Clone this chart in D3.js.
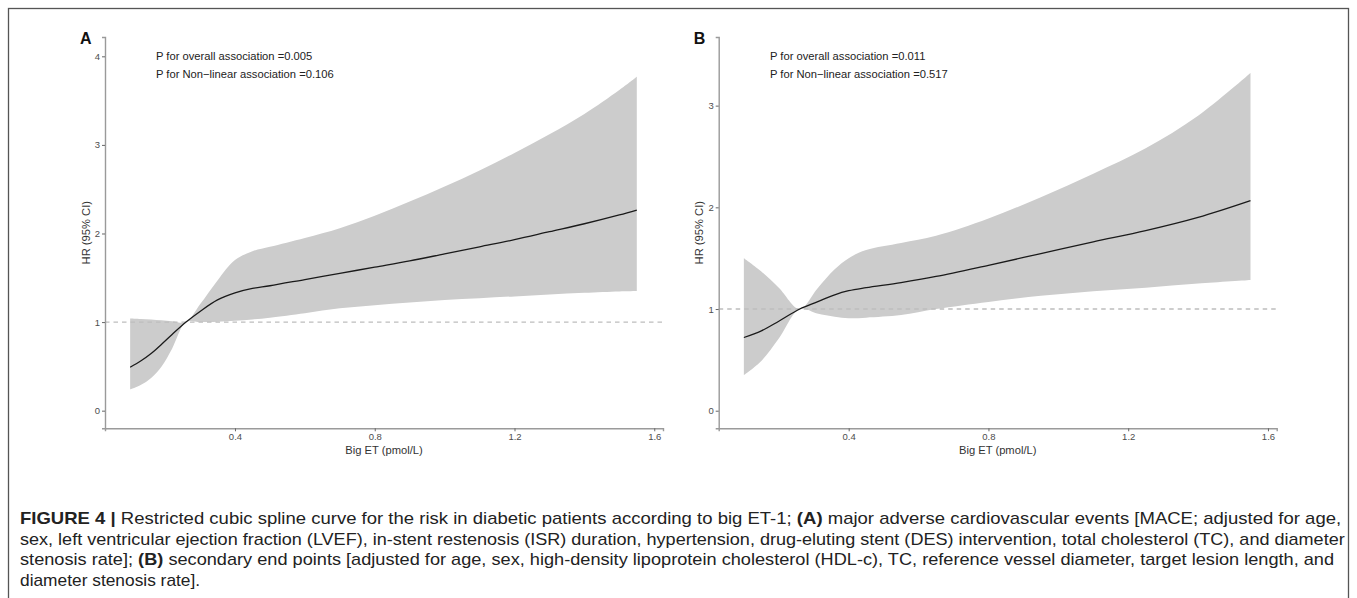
<!DOCTYPE html>
<html>
<head>
<meta charset="utf-8">
<script src="https://cdn.jsdelivr.net/npm/d3@7"></script>
<style>
  body { margin: 0; background: #fff; }
  svg { display: block; }
  .tick text { font-family: "Liberation Sans", Arial, sans-serif; }
</style>
</head>
<body>
<svg id="fig" width="1357" height="598"></svg>
<script>
// Panel A: MACE
var xA   = [0.10, 0.13, 0.16, 0.19, 0.22, 0.26, 0.30, 0.35, 0.40, 0.45, 0.50, 0.60, 0.70, 0.80, 0.90, 1.00, 1.10, 1.20, 1.30, 1.40, 1.50, 1.55];
var estA = [0.49, 0.56, 0.645, 0.75, 0.86, 1.00, 1.12, 1.25, 1.33, 1.38, 1.41, 1.48, 1.55, 1.62, 1.69, 1.77, 1.85, 1.93, 2.02, 2.11, 2.21, 2.265];
var loA  = [0.24, 0.29, 0.37, 0.50, 0.70, 1.00, 1.00, 1.005, 1.015, 1.03, 1.05, 1.10, 1.155, 1.19, 1.22, 1.25, 1.27, 1.29, 1.31, 1.33, 1.345, 1.35];
var hiA  = [1.04, 1.035, 1.03, 1.02, 1.01, 1.00, 1.20, 1.47, 1.70, 1.80, 1.85, 1.95, 2.06, 2.20, 2.36, 2.53, 2.71, 2.91, 3.12, 3.35, 3.62, 3.77];

// Panel B: secondary end points
var xB   = [0.10, 0.15, 0.20, 0.26, 0.31, 0.36, 0.40, 0.45, 0.55, 0.65, 0.80, 0.95, 1.10, 1.25, 1.40, 1.55];
var estB = [0.72, 0.785, 0.88, 1.00, 1.07, 1.14, 1.18, 1.21, 1.26, 1.32, 1.43, 1.545, 1.66, 1.77, 1.90, 2.065];
var loB  = [0.35, 0.49, 0.71, 1.00, 0.955, 0.925, 0.91, 0.915, 0.94, 1.00, 1.07, 1.13, 1.175, 1.21, 1.25, 1.285];
var hiB  = [1.50, 1.37, 1.21, 1.00, 1.20, 1.39, 1.50, 1.58, 1.65, 1.72, 1.89, 2.10, 2.33, 2.58, 2.90, 3.32];

var xTicks = [0.4, 0.8, 1.2, 1.6];
var yTicksA = [0, 1, 2, 3, 4];
var yTicksB = [0, 1, 2, 3];

var pTextA = ["P for overall association =0.005", "P for Non\u2212linear association =0.106"];
var pTextB = ["P for overall association =0.011", "P for Non\u2212linear association =0.517"];

var captionLines = [
  [["FIGURE 4 | ", true], ["Restricted cubic spline curve for the risk in diabetic patients according to big ET-1; ", false], ["(A)", true], [" major adverse cardiovascular events [MACE; adjusted for age,", false]],
  [["sex, left ventricular ejection fraction (LVEF), in-stent restenosis (ISR) duration, hypertension, drug-eluting stent (DES) intervention, total cholesterol (TC), and diameter", false]],
  [["stenosis rate]; ", false], ["(B)", true], [" secondary end points [adjusted for age, sex, high-density lipoprotein cholesterol (HDL-c), TC, reference vessel diameter, target lesion length, and", false]],
  [["diameter stenosis rate].", false]]
];
// widths of the full (justified) lines
var captionWidths = [1322, 1326, 1315];

var svg = d3.select("#fig");
var font = "'Liberation Sans', Arial, sans-serif";

// outer frame
svg.append("rect")
  .attr("x", 8.5).attr("y", 8.5)
  .attr("width", 1340).attr("height", 600)
  .attr("fill", "none")
  .attr("stroke", "#555")
  .attr("stroke-width", 1.3);

function drawPanel(opt) {
  var x = d3.scaleLinear().domain([0.028, 1.625]).range([opt.left, opt.left + 558]);
  var y = d3.scaleLinear().domain(opt.yDomain).range([428.3, 37]);
  var g = svg.append("g");

  var pts = opt.xs.map(function (v, i) {
    return { x: v, est: opt.est[i], lo: opt.lo[i], hi: opt.hi[i] };
  });

  // confidence band
  g.append("path")
    .datum(pts)
    .attr("fill", "#cccccc")
    .attr("d", d3.area()
      .curve(d3.curveCatmullRom.alpha(0.5))
      .x(function (d) { return x(d.x); })
      .y0(function (d) { return y(d.lo); })
      .y1(function (d) { return y(d.hi); }));

  // reference line at HR = 1
  g.append("line")
    .attr("x1", x.range()[0]).attr("x2", x.range()[1])
    .attr("y1", y(1)).attr("y2", y(1))
    .attr("stroke", "#bdbdbd")
    .attr("stroke-width", 1.3)
    .attr("stroke-dasharray", "4.5,4");

  // spline estimate
  g.append("path")
    .datum(pts)
    .attr("fill", "none")
    .attr("stroke", "#1a1a1a")
    .attr("stroke-width", 1.3)
    .attr("d", d3.line()
      .curve(d3.curveCatmullRom.alpha(0.5))
      .x(function (d) { return x(d.x); })
      .y(function (d) { return y(d.est); }));

  // axes
  var ax = g.append("g")
    .attr("transform", "translate(0,428.3)")
    .call(d3.axisBottom(x).tickValues(xTicks).tickSize(3).tickPadding(2).tickFormat(d3.format(".1f")));
  var ay = g.append("g")
    .attr("transform", "translate(" + opt.left + ",0)")
    .call(d3.axisLeft(y).tickValues(opt.yTicks).tickSize(3).tickPadding(2).tickFormat(d3.format("d")));

  [ax, ay].forEach(function (a) {
    a.select(".domain").attr("stroke", "#9a9a9a").attr("stroke-width", 1.4);
    a.selectAll(".tick line").attr("stroke", "#666").attr("stroke-width", 1);
    a.selectAll(".tick text").attr("fill", "#4d4d4d").style("font-size", "9.5px");
  });

  // axis titles
  g.append("text")
    .attr("x", (x.range()[0] + x.range()[1]) / 2)
    .attr("y", 453.5)
    .attr("text-anchor", "middle")
    .style("font-family", font).style("font-size", "11.2px")
    .attr("fill", "#333")
    .text("Big ET (pmol/L)");

  g.append("text")
    .attr("transform", "translate(" + (opt.left - 15.5) + ",232.7) rotate(-90)")
    .attr("text-anchor", "middle")
    .style("font-family", font).style("font-size", "11.2px")
    .attr("fill", "#333")
    .text("HR (95% CI)");

  // panel letter
  g.append("text")
    .attr("x", opt.left - 25).attr("y", 43.5)
    .style("font-family", font).style("font-size", "16px").style("font-weight", "bold")
    .attr("fill", "#111")
    .text(opt.letter);

  // p values
  g.selectAll(".ptext")
    .data(opt.ptext)
    .enter()
    .append("text")
    .attr("x", opt.left + opt.pOffset)
    .attr("y", function (d, i) { return 60 + i * 17.5; })
    .style("font-family", font).style("font-size", "11.2px")
    .attr("fill", "#222")
    .text(function (d) { return d; });
}

drawPanel({ left: 105, yDomain: [-0.199, 4.218], yTicks: yTicksA, xs: xA, est: estA, lo: loA, hi: hiA,
            letter: "A", ptext: pTextA, pOffset: 51 });
drawPanel({ left: 718.7, yDomain: [-0.173, 3.675], yTicks: yTicksB, xs: xB, est: estB, lo: loB, hi: hiB,
            letter: "B", ptext: pTextB, pOffset: 51.3 });

// caption: full lines squeezed/stretched to the column, last line uses their mean scale
var capTexts = captionLines.map(function (parts) {
  var t = svg.append("text")
    .style("font-family", "'Liberation Sans Narrow', 'Liberation Sans', Arial, sans-serif")
    .style("font-size", "16px")
    .attr("fill", "#222");
  parts.forEach(function (p) {
    t.append("tspan")
      .style("font-weight", p[1] ? "bold" : "normal")
      .text(p[0]);
  });
  return t;
});
var scales = captionWidths.map(function (w, i) {
  return w / capTexts[i].node().getComputedTextLength();
});
scales.push(d3.mean(scales) * 0.95);
capTexts.forEach(function (t, i) {
  t.attr("transform", "translate(20," + (524 + i * 20.7) + ") scale(" + scales[i] + ",1)");
});
</script>
</body>
</html>
